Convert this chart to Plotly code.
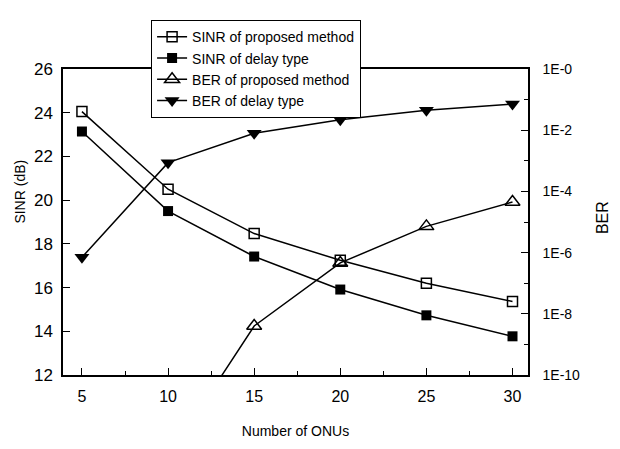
import plotly.graph_objects as go

onus = [5, 10, 15, 20, 25, 30]
sinr_proposed = [24.05, 20.5, 18.47, 17.25, 16.2, 15.36]
sinr_delay = [23.14, 19.5, 17.42, 15.91, 14.73, 13.77]
ber_proposed_x = [10, 15, 20, 25, 30]
ber_proposed = [2e-13, 4e-9, 4.6e-7, 7.2e-6, 4.5e-5]
ber_delay = [7e-7, 8.7e-4, 8e-3, 2.2e-2, 4.5e-2, 7.2e-2]

left_ticks = [12, 14, 16, 18, 20, 22, 24, 26]
right_tickvals = [1e0, 1e-2, 1e-4, 1e-6, 1e-8, 1e-10]
right_ticktext = ["1E-0", "1E-2", "1E-4", "1E-6", "1E-8", "1E-10"]

FONT = "Liberation Sans, Arial, sans-serif"
line = dict(color="black", width=1.5)

fig = go.Figure()
fig.add_trace(go.Scatter(
    x=onus, y=sinr_proposed, mode="lines+markers", name="SINR of proposed method",
    line=line, marker=dict(symbol="square-open", size=10, color="black", line=dict(width=1.5)),
))
fig.add_trace(go.Scatter(
    x=onus, y=sinr_delay, mode="lines+markers", name="SINR of delay type",
    line=line, marker=dict(symbol="square", size=10, color="black"),
))
fig.add_trace(go.Scatter(
    x=ber_proposed_x, y=ber_proposed, mode="lines+markers", name="BER of proposed method",
    yaxis="y2", line=line,
    marker=dict(symbol="triangle-up-open", size=13, color="black", line=dict(width=1.5)),
))
fig.add_trace(go.Scatter(
    x=onus, y=ber_delay, mode="lines+markers", name="BER of delay type",
    yaxis="y2", line=line, marker=dict(symbol="triangle-down", size=13, color="black"),
))

fig.update_layout(
    width=612, height=441,
    margin=dict(l=55, r=92, t=47, b=61),
    paper_bgcolor="white", plot_bgcolor="white",
    font=dict(family=FONT, color="black", size=14),
    showlegend=True,
    legend=dict(
        x=0.189, y=1.16, xanchor="left", yanchor="top",
        bgcolor="white", bordercolor="black", borderwidth=1.2,
        font=dict(size=14, family=FONT), tracegroupgap=0,
        itemwidth=30,
    ),
    xaxis=dict(
        range=[3.9, 30.9], tickvals=[5, 10, 15, 20, 25, 30],
        ticks="inside", ticklen=7, tickwidth=1.2, tickcolor="black",
        minor=dict(tickvals=[7.5, 12.5, 17.5, 22.5, 27.5], ticks="inside", ticklen=4, tickcolor="black"),
        showline=True, linecolor="black", linewidth=1.5, mirror=True,
        showgrid=False, zeroline=False,
        tickfont=dict(size=16), ticklabelstandoff=6,
        title=dict(text="Number of ONUs", font=dict(size=14), standoff=22),
    ),
    yaxis=dict(
        range=[12, 26], tickvals=left_ticks,
        ticks="inside", ticklen=7, tickwidth=1.2, tickcolor="black",
        showline=True, linecolor="black", linewidth=1.5,
        showgrid=False, zeroline=False,
        tickfont=dict(size=17), ticklabelstandoff=5,
    ),
    yaxis2=dict(
        type="log", range=[-10, 0], overlaying="y", side="right",
        tickvals=right_tickvals, ticktext=right_ticktext,
        ticks="inside", ticklen=7, tickwidth=1.2, tickcolor="black",
        minor=dict(tickvals=[1e-1, 1e-3, 1e-5, 1e-7, 1e-9], ticks="inside", ticklen=4, tickcolor="black"),
        showline=True, linecolor="black", linewidth=1.5,
        showgrid=False, zeroline=False,
        tickfont=dict(size=14), ticklabelstandoff=10,
    ),
    annotations=[
        dict(text="SINR (dB)", xref="paper", yref="paper", x=-0.092, y=0.6,
             textangle=-90, showarrow=False, font=dict(size=14), xanchor="center", yanchor="middle"),
        dict(text="BER", xref="paper", yref="paper", x=1.16, y=0.514,
             textangle=-90, showarrow=False, font=dict(size=16), xanchor="center", yanchor="middle"),
    ],
)

fig.write_html("out.html")
